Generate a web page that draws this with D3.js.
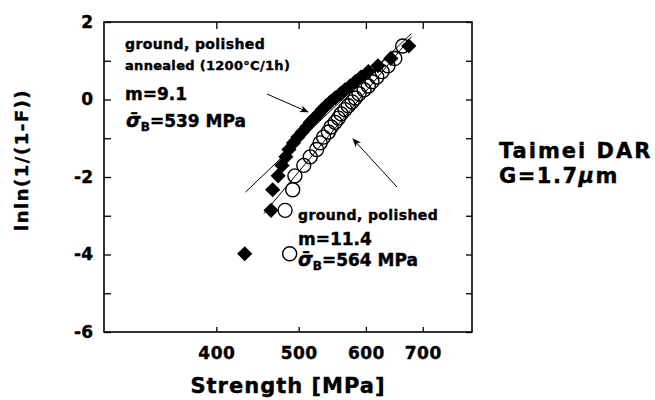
<!DOCTYPE html>
<html>
<head>
<meta charset="utf-8">
<script src="https://cdn.jsdelivr.net/npm/d3@7"></script>
<style>
body { margin: 0; background: #fff; }
text { font-family: "DejaVu Sans", sans-serif; font-weight: bold; fill: #000; }
</style>
</head>
<body>
<svg id="chart" width="655" height="400"></svg>
<script>
// Weibull plot values
const weibullY = [-3.98, -2.86, -2.33, -1.97, -1.70, -1.48, -1.29, -1.12, -0.97, -0.84, -0.71, -0.59, -0.48,
    -0.37, -0.26, -0.16, -0.06, 0.04, 0.15, 0.25, 0.35, 0.46, 0.58, 0.72, 0.87, 1.06, 1.38];
const strengthAnnealed = [432, 464, 466, 473, 478, 483, 487, 493, 499, 505, 511, 516, 522,
    528, 533, 539, 545, 552, 560, 567, 575, 583, 592, 604, 620, 642, 674];
const strengthPolished = [488, 482, 492, 495, 507, 516, 525, 530, 535, 542, 546, 552, 557,
    561, 567, 572, 578, 583, 589, 597, 604, 610, 618, 627, 637, 649, 663];
const xTicks = [400, 500, 600, 700];
const yTicks = [-6, -4, -2, 0, 2];
const yMinorTicks = [-5, -3, -1, 1];
const fitModulus = [9.1, 11.4];
const fitScale = [563, 589];
const fitFrom = [433, 455];
const fitTo = [679, 679];

const frame = { left: 104, right: 472, top: 22, bottom: 332 };
const svg = d3.select("#chart");

const x = d3.scaleLog().domain([295, 800]).range([frame.left, frame.right]);
const y = d3.scaleLinear().domain([-6, 2]).range([frame.bottom, frame.top]);
const minusFormat = d => d < 0 ? "-" + Math.abs(d) : String(d);

function styleAxis(g) {
    g.select(".domain").remove();
    g.selectAll(".tick line").attr("stroke", "#000").attr("stroke-width", 1.3);
    g.selectAll(".tick text")
        .attr("fill", "#000")
        .attr("font-family", "DejaVu Sans")
        .attr("font-weight", "bold")
        .attr("stroke", "#000")
        .attr("stroke-width", 0.4);
}

// axes with inward ticks
svg.append("g")
    .attr("transform", `translate(0,${frame.bottom})`)
    .call(d3.axisBottom(x).tickValues(xTicks).tickSize(-5).tickPadding(15).tickFormat(d3.format("d")))
    .call(styleAxis)
    .selectAll("text").attr("font-size", 17).attr("letter-spacing", 0.5);
svg.append("g")
    .attr("transform", `translate(0,${frame.top})`)
    .call(d3.axisTop(x).tickValues(xTicks).tickSize(-7).tickFormat(""))
    .call(styleAxis);
svg.append("g")
    .attr("transform", `translate(${frame.left},0)`)
    .call(d3.axisLeft(y).tickValues(yTicks).tickSize(-7).tickPadding(11).tickFormat(minusFormat))
    .call(styleAxis)
    .selectAll("text").attr("font-size", 17);
svg.append("g")
    .attr("transform", `translate(${frame.left},0)`)
    .call(d3.axisLeft(y).tickValues(yMinorTicks).tickSize(-7).tickFormat(""))
    .call(styleAxis);
svg.append("g")
    .attr("transform", `translate(${frame.right},0)`)
    .call(d3.axisRight(y).tickValues(yTicks.concat(yMinorTicks)).tickSize(-6).tickFormat(""))
    .call(styleAxis);

svg.append("rect")
    .attr("x", frame.left)
    .attr("y", frame.top)
    .attr("width", frame.right - frame.left)
    .attr("height", frame.bottom - frame.top)
    .attr("fill", "none")
    .attr("stroke", "#000")
    .attr("stroke-width", 1.6);

// fitted Weibull lines
const fitLine = d3.line().x(d => x(d[0])).y(d => y(d[1]));
fitModulus.forEach(function (m, i) {
    const pts = [fitFrom[i], fitTo[i]].map(s => [s, m * Math.log(s / fitScale[i])]);
    svg.append("path")
        .attr("d", fitLine(pts))
        .attr("fill", "none")
        .attr("stroke", "#000")
        .attr("stroke-width", 1);
});

// open circles: ground, polished
svg.append("g").selectAll("circle")
    .data(strengthPolished.map((s, i) => [s, weibullY[i]]))
    .join("circle")
    .attr("cx", d => x(d[0]))
    .attr("cy", d => y(d[1]))
    .attr("r", 7)
    .attr("fill", "none")
    .attr("stroke", "#000")
    .attr("stroke-width", 1.4);

// filled diamonds: annealed
svg.append("g").selectAll("path")
    .data(strengthAnnealed.map((s, i) => [s, weibullY[i]]))
    .join("path")
    .attr("d", d3.symbol().type(d3.symbolSquare).size(115))
    .attr("transform", d => `translate(${x(d[0])},${y(d[1])}) rotate(45)`)
    .attr("fill", "#000");

// arrows
svg.append("defs").append("marker")
    .attr("id", "arrowhead")
    .attr("viewBox", "0 -5 10 10")
    .attr("refX", 9)
    .attr("refY", 0)
    .attr("orient", "auto")
    .attr("markerUnits", "userSpaceOnUse")
    .attr("markerWidth", 11)
    .attr("markerHeight", 9)
    .append("path")
    .attr("d", "M0,-4 L10,0 L0,4 L3,0 Z")
    .attr("fill", "#000");
const arrows = [[267, 94, 308, 112], [397, 187, 353, 139]];
svg.selectAll(".arrow")
    .data(arrows)
    .join("line")
    .attr("class", "arrow")
    .attr("x1", d => d[0]).attr("y1", d => d[1])
    .attr("x2", d => d[2]).attr("y2", d => d[3])
    .attr("stroke", "#000")
    .attr("stroke-width", 1)
    .attr("marker-end", "url(#arrowhead)");

// annotations
function label(tx, ty, size, str, spacing) {
    return svg.append("text")
        .attr("x", tx)
        .attr("y", ty)
        .attr("font-size", size)
        .attr("letter-spacing", spacing || 0)
        .attr("stroke", "#000")
        .attr("stroke-width", 0.4)
        .text(str);
}
function sigmaLabel(tx, ty, value) {
    const t = svg.append("text")
        .attr("x", tx)
        .attr("y", ty)
        .attr("font-size", 17)
        .attr("stroke", "#000")
        .attr("stroke-width", 0.4);
    t.append("tspan").attr("font-style", "italic").attr("font-size", 19).text("\u03C3\u0304");
    t.append("tspan").attr("font-size", 12).attr("dy", 4).text("B");
    t.append("tspan").attr("dy", -4).text("=" + value + " MPa");
}

label(125, 49, 14, "ground, polished", 0.4);
label(125, 70, 13, "annealed (1200\u00B0C/1h)", 0.3);
label(125, 100, 17, "m=9.1");
sigmaLabel(126, 127, 539);

label(298, 220, 14, "ground, polished", 0.4);
label(298, 245, 17, "m=11.4");
sigmaLabel(298, 266, 564);

label(499, 158, 21, "Taimei DAR", 2);
const g = svg.append("text")
    .attr("x", 499)
    .attr("y", 183)
    .attr("font-size", 21)
    .attr("letter-spacing", 1.5)
    .attr("stroke", "#000")
    .attr("stroke-width", 0.4);
g.append("tspan").text("G=1.7");
g.append("tspan").attr("font-style", "italic").text("\u03BC");
g.append("tspan").text("m");

// axis titles
svg.append("text")
    .attr("x", 288)
    .attr("y", 393)
    .attr("text-anchor", "middle")
    .attr("font-size", 21)
    .attr("letter-spacing", 1)
    .attr("stroke", "#000")
    .attr("stroke-width", 0.4)
    .text("Strength [MPa]");
svg.append("text")
    .attr("transform", "translate(28,160) rotate(-90)")
    .attr("text-anchor", "middle")
    .attr("font-size", 18)
    .attr("letter-spacing", 1.5)
    .attr("stroke", "#000")
    .attr("stroke-width", 0.4)
    .text("lnln(1/(1-F))");
</script>
</body>
</html>
